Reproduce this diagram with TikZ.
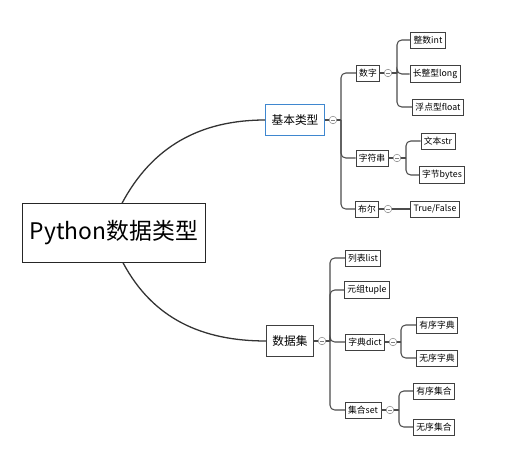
\documentclass[tikz,border=0pt]{standalone}
\usepackage{fontspec}
\newfontfamily\cjk{Noto Sans CJK SC}
\usetikzlibrary{shadows}
\begin{document}
\begin{tikzpicture}[x=0.03cm,y=-0.03cm,
  branch/.style={draw=black!80,line width=1.1pt},
  link/.style={draw=black!70,line width=0.9pt,rounded corners=4pt},
  rootbox/.style={draw=black!85,fill=white,line width=0.9pt,minimum width=5.5cm,minimum height=1.75cm,font=\cjk\fontsize{19.5}{22}\selectfont},
  topic/.style={draw=black!75,fill=white,line width=0.6pt,minimum height=0.95cm,inner xsep=5pt,font=\cjk\fontsize{10}{12}\selectfont},
  leaf/.style={draw=black!75,fill=white,line width=0.5pt,inner xsep=2.5pt,minimum height=0.47cm,font=\cjk\fontsize{7.5}{9}\selectfont,
    drop shadow={shadow xshift=0.6pt,shadow yshift=-0.6pt,fill=black!40}},
  fold/.style={circle,draw=black!50,fill=white,line width=0.4pt,inner sep=0pt,minimum size=6.5pt,
    path picture={\draw[black!50,line width=0.4pt] ([xshift=1.6pt]path picture bounding box.west) -- ([xshift=-1.6pt]path picture bounding box.east);}}]
\useasboundingbox (0,0) rectangle (527,472);

\node[rootbox] (root) at (114,233) {Python数据类型};
\node[topic,draw=cyan!55!blue!80,line width=0.8pt] (basic) at (295,120) {基本类型};
\node[topic] (coll) at (290,341) {数据集};

\node[leaf] (num) at (368,73) {数字};
\node[leaf] (str) at (372,158) {字符串};
\node[leaf] (bool) at (367,209) {布尔};
\node[leaf] (int) at (428,40) {整数int};
\node[leaf] (long) at (435,74) {长整型long};
\node[leaf] (float) at (438,107) {浮点型float};
\node[leaf] (text) at (438,141) {文本str};
\node[leaf] (bytes) at (442,175) {字节bytes};
\node[leaf] (tf) at (435,209) {True/False};

\node[leaf] (list) at (363,258) {列表list};
\node[leaf] (tuple) at (367,290) {元组tuple};
\node[leaf] (dict) at (365,342) {字典dict};
\node[leaf] (set) at (363,410) {集合set};
\node[leaf] (odict) at (437,325) {有序字典};
\node[leaf] (udict) at (437,358) {无序字典};
\node[leaf] (oset) at (434,391) {有序集合};
\node[leaf] (uset) at (434,427) {无序集合};

\node[fold] (basicf) at (333,120) {};
\node[fold] (numf) at (388,73) {};
\node[fold] (strf) at (397,158) {};
\node[fold] (boolf) at (388,209) {};
\node[fold] (collf) at (322,341) {};
\node[fold] (dictf) at (393,342) {};
\node[fold] (setf) at (390,410) {};

\coordinate (tbasic) at (341,0);
\coordinate (tnum) at (397,0);
\coordinate (tstr) at (406,0);
\coordinate (tcoll) at (330,0);
\coordinate (tdict) at (401,0);
\coordinate (tset) at (399,0);

\draw[branch] ([xshift=0.24cm]root.north) to[out=62,in=180] (basic.west);
\draw[branch] ([xshift=0.27cm]root.south) to[out=-62,in=180] (coll.west);

\draw[link] (basic.east) -- (basicf.west);
\draw[link] (basicf.east) -- (basicf.east -| tbasic);
\foreach \c in {num,str,bool}
  \draw[link] (basicf.east -| tbasic) |- (\c.west);

\draw[link] (num.east) -- (numf.west);
\draw[link] (numf.east) -- (numf.east -| tnum);
\foreach \c in {int,long,float}
  \draw[link] (numf.east -| tnum) |- (\c.west);

\draw[link] (str.east) -- (strf.west);
\draw[link] (strf.east) -- (strf.east -| tstr);
\foreach \c in {text,bytes}
  \draw[link] (strf.east -| tstr) |- (\c.west);

\draw[link] (bool.east) -- (boolf.west);
\draw[link] (boolf.east) -- (tf.west);

\draw[link] (coll.east) -- (collf.west);
\draw[link] (collf.east) -- (collf.east -| tcoll);
\foreach \c in {list,tuple,dict,set}
  \draw[link] (collf.east -| tcoll) |- (\c.west);

\draw[link] (dict.east) -- (dictf.west);
\draw[link] (dictf.east) -- (dictf.east -| tdict);
\foreach \c in {odict,udict}
  \draw[link] (dictf.east -| tdict) |- (\c.west);

\draw[link] (set.east) -- (setf.west);
\draw[link] (setf.east) -- (setf.east -| tset);
\foreach \c in {oset,uset}
  \draw[link] (setf.east -| tset) |- (\c.west);
\end{tikzpicture}
\end{document}
